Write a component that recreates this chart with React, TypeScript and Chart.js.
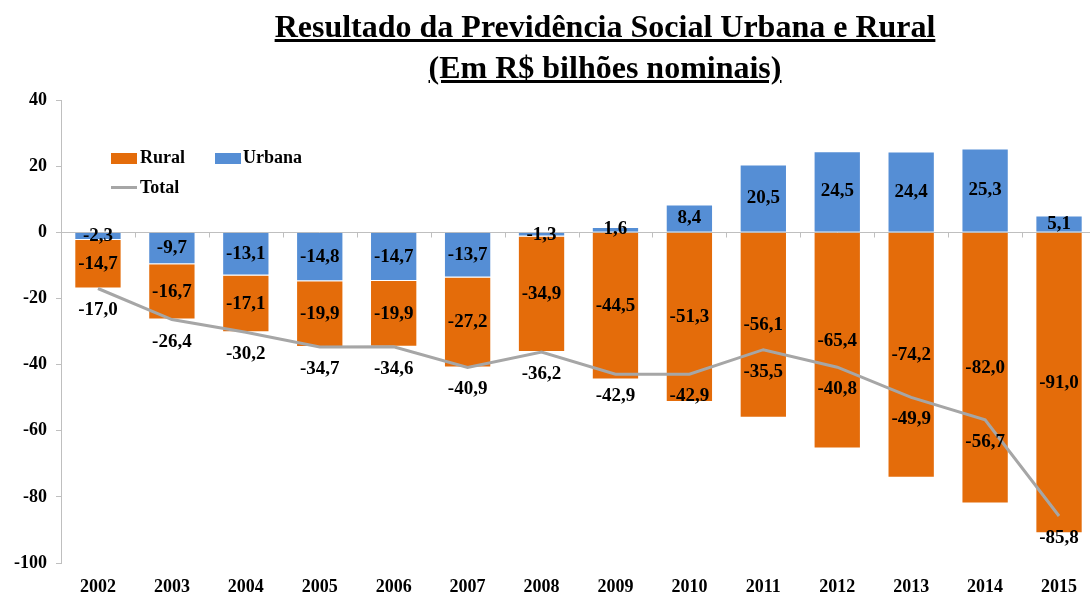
import React, { useEffect, useRef } from "react";
import { Chart, registerables } from "chart.js";

Chart.register(...registerables);

const years = ["2002", "2003", "2004", "2005", "2006", "2007", "2008", "2009", "2010", "2011", "2012", "2013", "2014", "2015"];
const urbana = [-2.3, -9.7, -13.1, -14.8, -14.7, -13.7, -1.3, 1.6, 8.4, 20.5, 24.5, 24.4, 25.3, 5.1];
const rural = [-14.7, -16.7, -17.1, -19.9, -19.9, -27.2, -34.9, -44.5, -51.3, -56.1, -65.4, -74.2, -82.0, -91.0];
const total = [-17.0, -26.4, -30.2, -34.7, -34.6, -40.9, -36.2, -42.9, -42.9, -35.5, -40.8, -49.9, -56.7, -85.8];
const yMin = -100;
const yMax = 40;
const yStep = 20;

const ORANGE = "#E46C0A";
const BLUE = "#558ED5";
const GREY = "#A6A6A6";
const FONT = '"Liberation Serif", "Times New Roman", serif';

const fmt = (v: number) => v.toFixed(1).replace(".", ",");

const zeroLinePlugin = {
  id: "zeroLine",
  beforeDatasetsDraw(chart: any) {
    const { ctx, scales } = chart;
    const x = scales.x;
    const y = scales.y;
    const y0 = Math.round(y.getPixelForValue(0)) + 0.5;
    const n = chart.data.labels.length;
    const w = (x.right - x.left) / n;
    ctx.save();
    ctx.strokeStyle = "#BFBFBF";
    ctx.lineWidth = 1;
    ctx.beginPath();
    ctx.moveTo(x.left, y0);
    ctx.lineTo(x.right, y0);
    for (let i = 0; i <= n; i++) {
      const px = Math.round(x.left + i * w) + 0.5;
      ctx.moveTo(px, y0);
      ctx.lineTo(px, y0 + 5);
    }
    ctx.stroke();
    ctx.restore();
  },
};

const labelPlugin = {
  id: "valueLabels",
  afterDatasetsDraw(chart: any) {
    const ctx = chart.ctx;
    ctx.save();
    ctx.font = `bold 19px ${FONT}`;
    ctx.fillStyle = "#000";
    ctx.textAlign = "center";
    ctx.textBaseline = "middle";
    chart.data.datasets.forEach((ds: any, i: number) => {
      const meta = chart.getDatasetMeta(i);
      meta.data.forEach((el: any, j: number) => {
        const v = ds.data[j] as number;
        if (meta.type === "bar") {
          const c = el.getCenterPoint();
          ctx.fillText(fmt(v), c.x, c.y);
        } else {
          ctx.fillText(fmt(v), el.x, el.y + 22);
        }
      });
    });
    ctx.restore();
  },
};

export default function App() {
  const ref = useRef<HTMLCanvasElement | null>(null);

  useEffect(() => {
    if (!ref.current) return;
    const chart = new Chart(ref.current, {
      type: "bar",
      data: {
        labels: years,
        datasets: [
          {
            type: "bar",
            label: "Rural",
            data: rural,
            backgroundColor: ORANGE,
            borderColor: "rgba(255,255,255,0.7)",
            borderWidth: 1,
            order: 2,
            barPercentage: 0.64,
            categoryPercentage: 1,
          },
          {
            type: "bar",
            label: "Urbana",
            data: urbana,
            backgroundColor: BLUE,
            borderColor: "rgba(255,255,255,0.7)",
            borderWidth: 1,
            order: 1,
            barPercentage: 0.64,
            categoryPercentage: 1,
          },
          {
            type: "line",
            label: "Total",
            data: total,
            borderColor: GREY,
            backgroundColor: GREY,
            borderWidth: 3,
            pointRadius: 0,
            tension: 0,
            order: 0,
          } as any,
        ],
      },
      options: {
        animation: false,
        responsive: true,
        maintainAspectRatio: false,
        layout: { padding: { top: 100, left: 0, right: 4, bottom: 0 } },
        plugins: {
          legend: { display: false },
          title: { display: false },
          tooltip: { enabled: false },
        },
        scales: {
          x: {
            stacked: true,
            grid: { display: false, drawTicks: false },
            border: { display: false },
            ticks: {
              color: "#000",
              font: { family: FONT, size: 18, weight: "bold" },
              padding: 14,
              maxRotation: 0,
            },
            afterFit: (scale: any) => {
              scale.height = 32;
            },
          },
          y: {
            stacked: true,
            min: yMin,
            max: yMax,
            grid: {
              display: true,
              drawOnChartArea: false,
              drawTicks: true,
              tickLength: 5,
              color: "#BFBFBF",
            },
            border: { display: true, color: "#BFBFBF", width: 1 },
            ticks: {
              stepSize: yStep,
              color: "#000",
              font: { family: FONT, size: 18, weight: "bold" },
              padding: 9,
            },
            afterFit: (scale: any) => {
              scale.width = 61;
            },
          },
        },
      } as any,
      plugins: [zeroLinePlugin, labelPlugin],
    });
    return () => chart.destroy();
  }, []);

  const legendText: React.CSSProperties = {
    fontFamily: FONT,
    fontWeight: "bold",
    fontSize: 18,
    color: "#000",
    position: "absolute",
    lineHeight: "20px",
    whiteSpace: "nowrap",
  };

  return (
    <div
      style={{
        position: "fixed",
        left: 0,
        top: 0,
        width: 1090,
        height: 595,
        overflow: "hidden",
        background: "#fff",
      }}
    >
      <div style={{ position: "absolute", left: 0, top: 0, width: 1100, height: 595 }}>
        <canvas ref={ref} />
      </div>
      <div
        style={{
          position: "absolute",
          left: 605,
          top: 6,
          transform: "translateX(-50%)",
          textAlign: "center",
          fontFamily: FONT,
          fontWeight: "bold",
          fontSize: 32,
          lineHeight: "41px",
          textDecoration: "underline",
          whiteSpace: "nowrap",
          color: "#000",
        }}
      >
        <div>Resultado da Previdência Social Urbana e Rural</div>
        <div>(Em R$ bilhões nominais)</div>
      </div>
      <div style={{ position: "absolute", left: 111, top: 153, width: 26, height: 11, background: ORANGE }} />
      <div style={{ ...legendText, left: 140, top: 147 }}>Rural</div>
      <div style={{ position: "absolute", left: 215, top: 153, width: 26, height: 11, background: BLUE }} />
      <div style={{ ...legendText, left: 243, top: 147 }}>Urbana</div>
      <div style={{ position: "absolute", left: 111, top: 185.5, width: 26, height: 3, background: GREY }} />
      <div style={{ ...legendText, left: 140, top: 177 }}>Total</div>
    </div>
  );
}
